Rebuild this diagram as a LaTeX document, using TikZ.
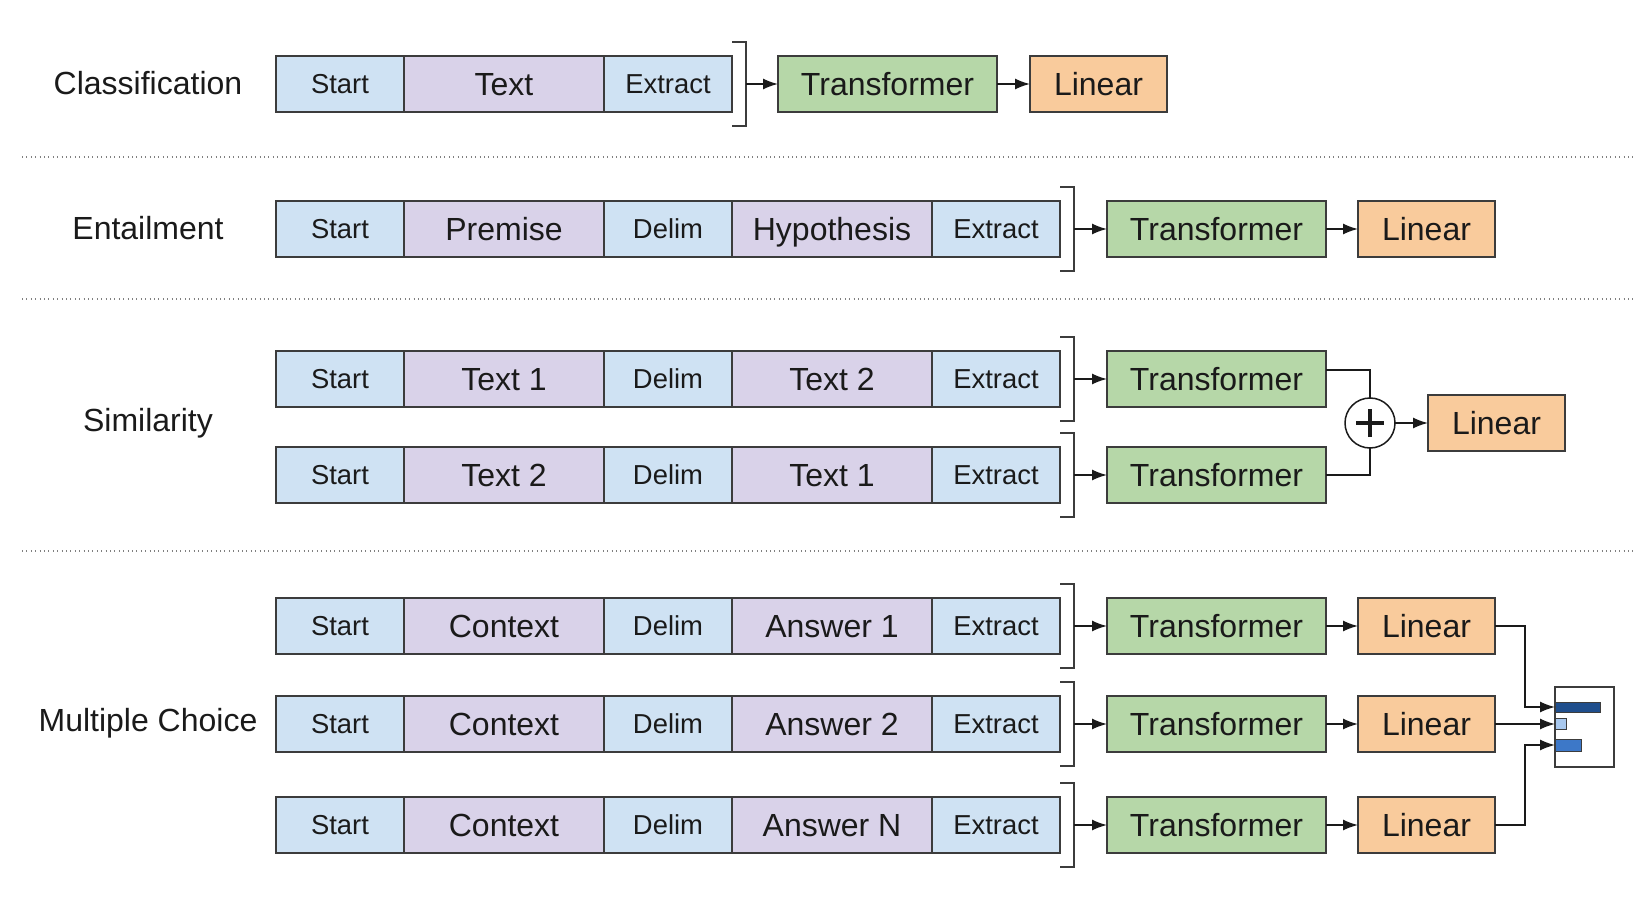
\documentclass[tikz,border=0pt]{standalone}
\usepackage{fontspec}
\setmainfont{Liberation Sans}
\usetikzlibrary{positioning,arrows.meta}

\definecolor{ink}{HTML}{1A1A1A}
\definecolor{boxline}{HTML}{3C3C3C}
\definecolor{tokblue}{HTML}{CFE2F3}
\definecolor{tokpurple}{HTML}{D9D2E9}
\definecolor{trgreen}{HTML}{B6D7A8}
\definecolor{linorange}{HTML}{F9CB9C}
\definecolor{bardark}{HTML}{1F4E8C}
\definecolor{barmid}{HTML}{3D78C8}
\definecolor{barlight}{HTML}{A8C8EE}

\tikzset{
  tok/.style={draw=boxline, line width=0.9pt, inner sep=0pt, outer sep=0pt,
    minimum height=28pt, text height=9.8pt, text depth=0pt,
    text=ink, font=\fontsize{13.7}{16}\selectfont},
  bigtok/.style={tok, text height=11.5pt, font=\fontsize{16}{19}\selectfont},
  sepbox/.style={tok, fill=tokblue, minimum width=64pt},
  segbox/.style={bigtok, fill=tokpurple, minimum width=100pt},
  trbox/.style={bigtok, fill=trgreen, minimum width=109.5pt},
  linbox/.style={bigtok, fill=linorange, minimum width=68.5pt},
  tasklbl/.style={text=ink, font=\fontsize{16}{19}\selectfont},
  feed/.style={-{Latex[length=7.5pt,width=5.5pt]}, line width=0.75pt, draw=ink},
  wire/.style={line width=0.75pt, draw=ink},
  brk/.style={line width=0.75pt, draw=boxline},
  sepline/.style={gray, line width=0.6pt, dash pattern=on 0.5pt off 1.7pt}
}

% bracket behind the last token of a row, with its tip coordinate
\newcommand{\tokbrk}[2]{%
  \draw[brk] ([yshift=21pt]#1.east) -| ([xshift=7pt,yshift=-21pt]#1.east) -- ([yshift=-21pt]#1.east);
  \coordinate (#2) at ([xshift=7pt]#1.east);}

\begin{document}
\begin{tikzpicture}[x=0.5pt,y=-0.5pt]
  \useasboundingbox (0,0) rectangle (1643,909);

  % dotted separators
  \foreach \y in {157,299,551}
    \draw[sepline] (22,\y) -- (1635,\y);

  % classification
  \node[tasklbl] (lcls) at (148,83) {Classification};
  \node[sepbox, anchor=west] (c1) at (276,84) {Start};
  \node[segbox, right=0pt of c1] (c2) {Text};
  \node[sepbox, right=0pt of c2] (c3) {Extract};
  \tokbrk{c3}{cb}
  \node[trbox, right=16pt of cb] (ctr) {Transformer};
  \node[linbox, right=16.5pt of ctr] (clin) {Linear};
  \draw[feed] (cb) -- (ctr);
  \draw[feed] (ctr) -- (clin);

  % entailment
  \node[tasklbl] (lent) at (148,228) {Entailment};
  \node[sepbox, anchor=west] (e1) at (276,229) {Start};
  \node[segbox, right=0pt of e1] (e2) {Premise};
  \node[sepbox, right=0pt of e2] (e3) {Delim};
  \node[segbox, right=0pt of e3] (e4) {Hypothesis};
  \node[sepbox, right=0pt of e4] (e5) {Extract};
  \tokbrk{e5}{eb}
  \node[trbox, right=16.5pt of eb] (etr) {Transformer};
  \node[linbox, right=16pt of etr] (elin) {Linear};
  \draw[feed] (eb) -- (etr);
  \draw[feed] (etr) -- (elin);

  % similarity
  \node[tasklbl] (lsim) at (148,423) {Similarity};
  \foreach \i/\y/\ta/\tb in {1/379/Text 1/Text 2, 2/475/Text 2/Text 1} {
    \node[sepbox, anchor=west] (s\i1) at (276,\y) {Start};
    \node[segbox, right=0pt of s\i1] (s\i2) {\ta};
    \node[sepbox, right=0pt of s\i2] (s\i3) {Delim};
    \node[segbox, right=0pt of s\i3] (s\i4) {\tb};
    \node[sepbox, right=0pt of s\i4] (s\i5) {Extract};
    \tokbrk{s\i5}{sb\i}
    \node[trbox, right=16.5pt of sb\i] (str\i) {Transformer};
    \draw[feed] (sb\i) -- (str\i);
  }
  \node[circle, draw=ink, line width=0.75pt, minimum size=25pt, inner sep=0pt, outer sep=0pt,
    path picture={\draw[line width=1.7pt, ink]
      ([xshift=-7pt]path picture bounding box.center) -- ++(14pt,0)
      ([yshift=-7pt]path picture bounding box.center) -- ++(0,14pt);}]
    (plus) at (1370,423) {};
  \node[linbox, right=16.5pt of plus] (slin) {Linear};
  \draw[wire] ([yshift=4.5pt]str1.east) -| (plus.north);
  \draw[wire] (str2.east) -| (plus.south);
  \draw[feed] (plus) -- (slin);

  % multiple choice
  \node[tasklbl] (lmc) at (148,723) {Multiple Choice};
  \foreach \i/\y/\ans in {1/626/Answer 1, 2/724/Answer 2, 3/825/Answer N} {
    \node[sepbox, anchor=west] (m\i1) at (276,\y) {Start};
    \node[segbox, right=0pt of m\i1] (m\i2) {Context};
    \node[sepbox, right=0pt of m\i2] (m\i3) {Delim};
    \node[segbox, right=0pt of m\i3] (m\i4) {\ans};
    \node[sepbox, right=0pt of m\i4] (m\i5) {Extract};
    \tokbrk{m\i5}{mb\i}
    \node[trbox, right=16.5pt of mb\i] (mtr\i) {Transformer};
    \node[linbox, right=16pt of mtr\i] (mlin\i) {Linear};
    \draw[feed] (mb\i) -- (mtr\i);
    \draw[feed] (mtr\i) -- (mlin\i);
  }

  % softmax over the choices
  \node[draw=boxline, line width=0.75pt, fill=white, minimum width=29.5pt,
    minimum height=40pt, inner sep=0pt, outer sep=0pt] (smax) at (1584.5,727) {};
  \node[draw=boxline, line width=0.5pt, fill=bardark, anchor=west, inner sep=0pt,
    minimum width=22.5pt, minimum height=5pt] (bar1) at (smax.west |- 0,707) {};
  \node[draw=boxline, line width=0.5pt, fill=barlight, anchor=west, inner sep=0pt,
    minimum width=5.5pt, minimum height=5.5pt] (bar2) at (smax.west |- mlin2) {};
  \node[draw=boxline, line width=0.5pt, fill=barmid, anchor=west, inner sep=0pt,
    minimum width=13pt, minimum height=6pt] (bar3) at (smax.west |- 0,745) {};
  \draw[feed] (mlin1.east) -- ++(15pt,0) |- (bar1.west);
  \draw[feed] (mlin2.east) -- (bar2.west);
  \draw[feed] (mlin3.east) -- ++(15pt,0) |- (bar3.west);
\end{tikzpicture}
\end{document}
